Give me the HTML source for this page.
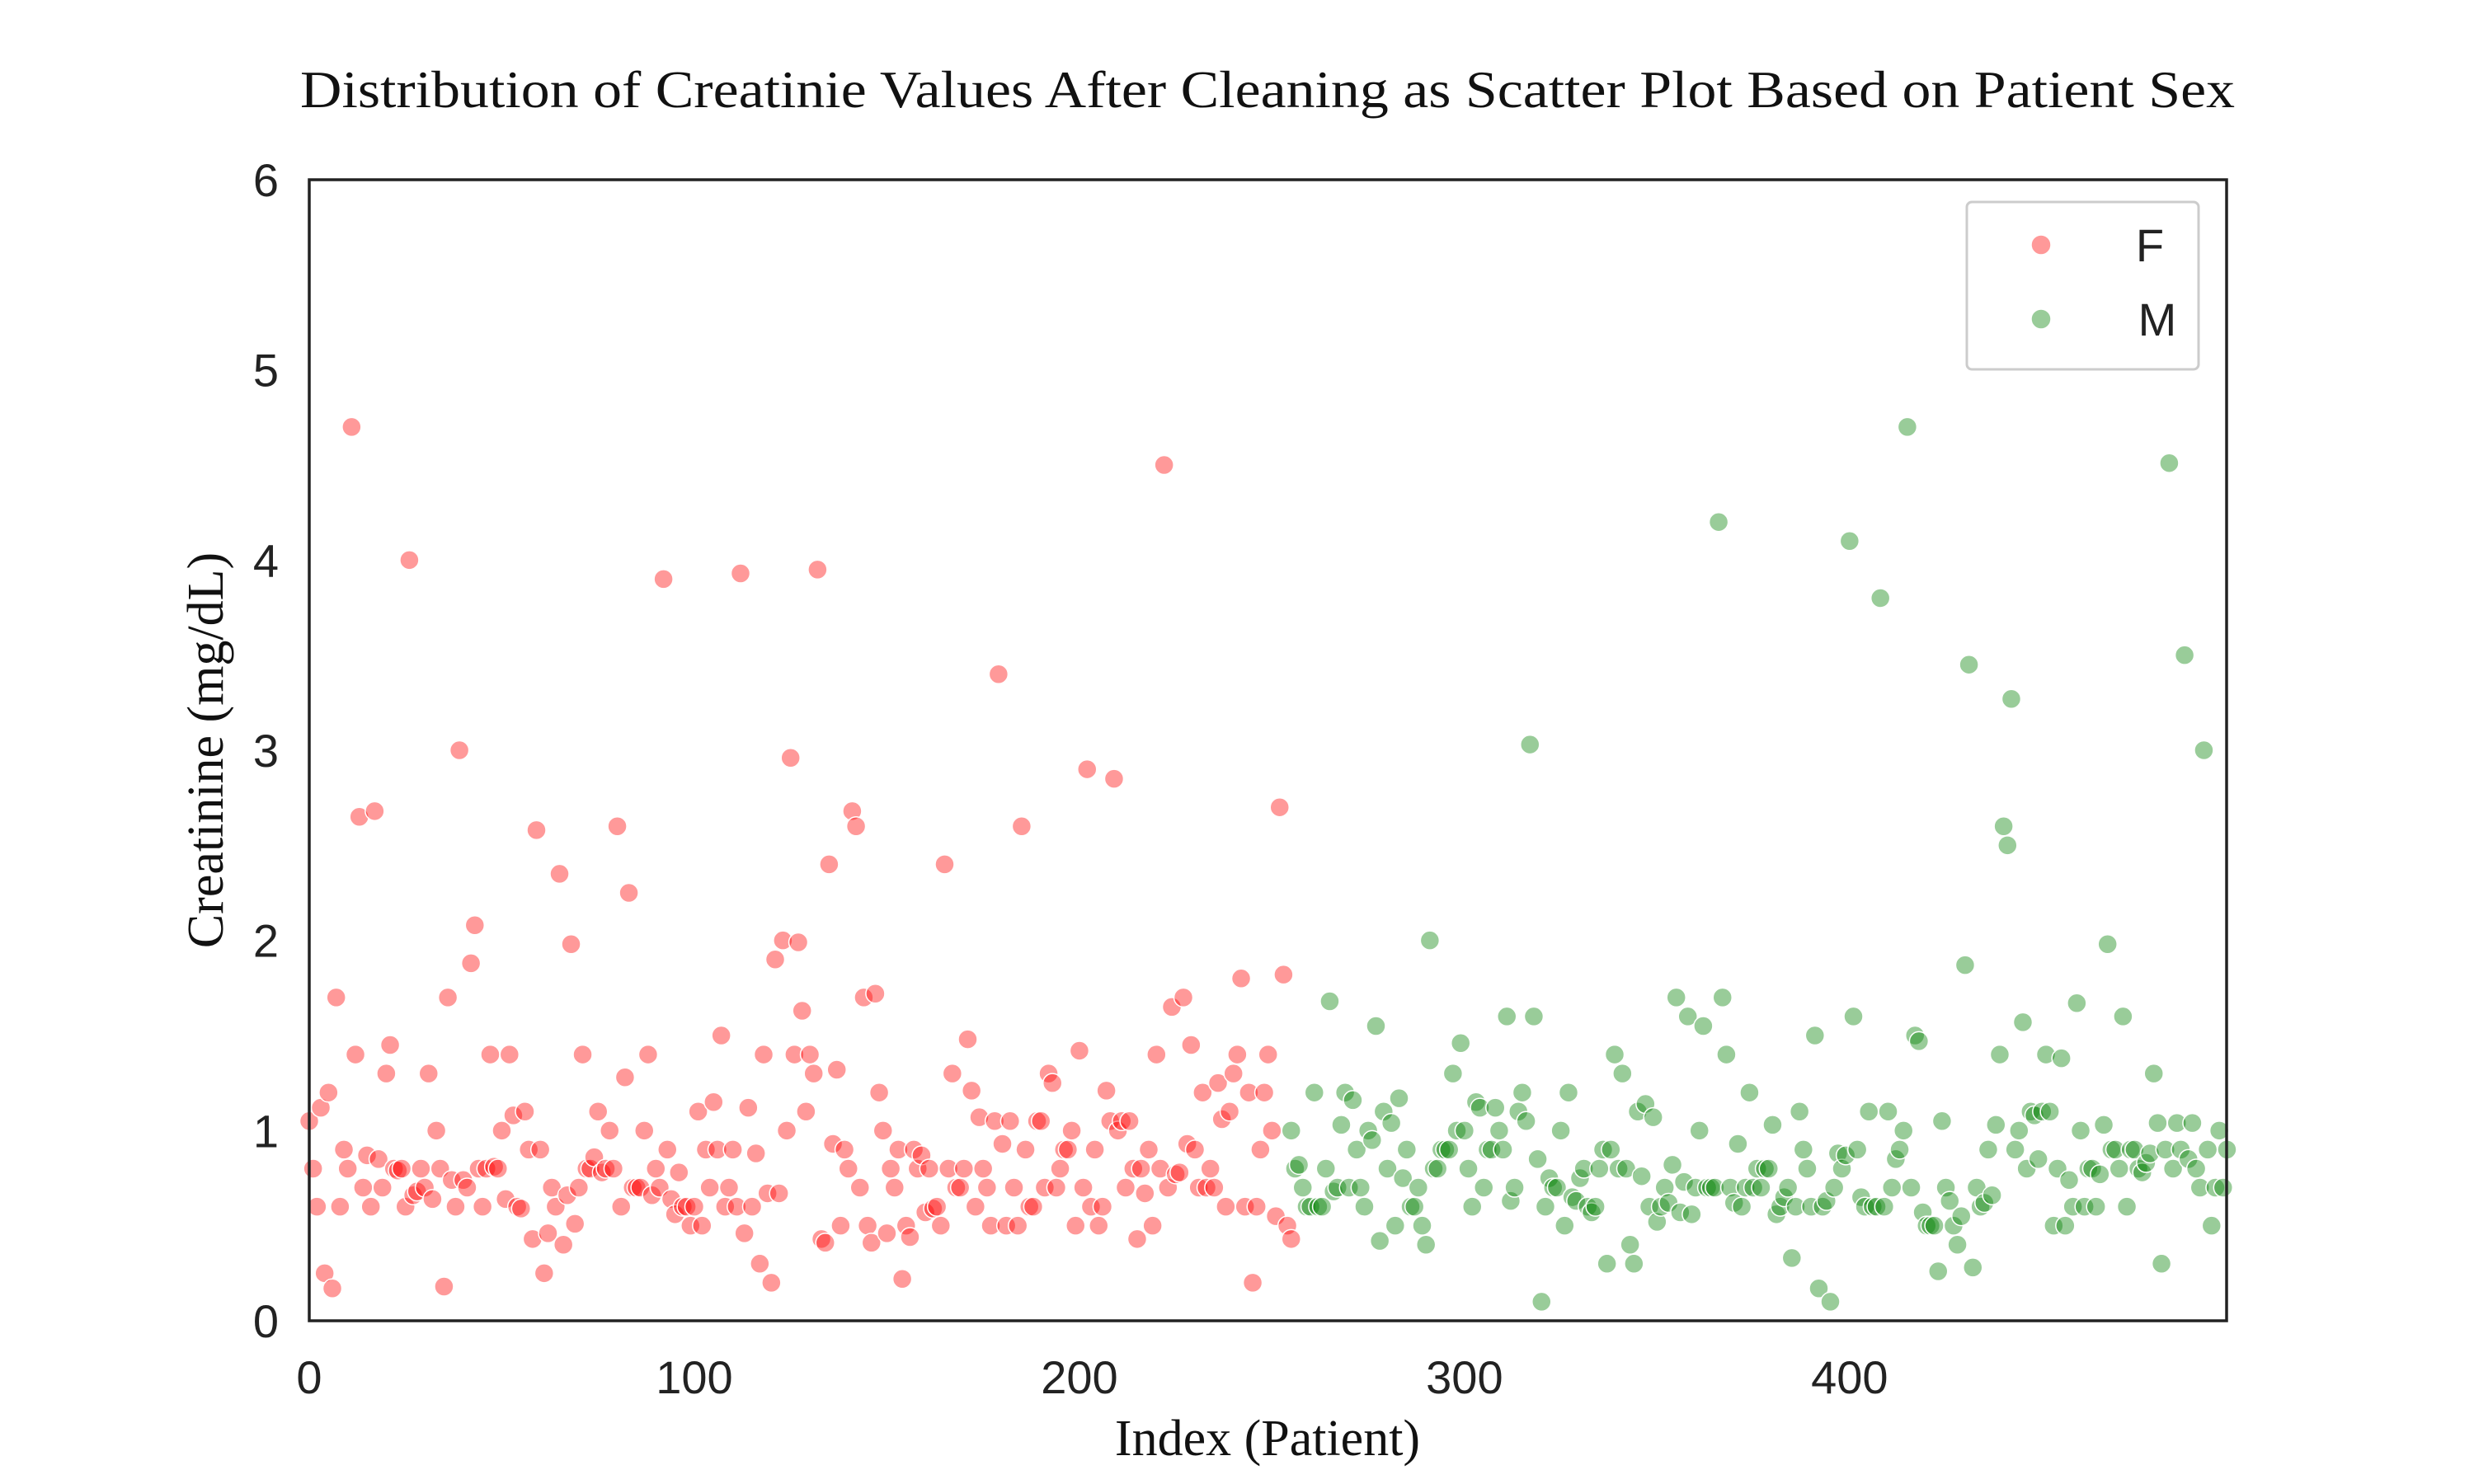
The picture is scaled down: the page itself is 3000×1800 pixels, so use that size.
<!DOCTYPE html>
<html><head><meta charset="utf-8"><style>
html,body{margin:0;padding:0;background:#fff;}
svg{display:block;}
</style></head><body>
<svg id="chart" width="3000" height="1800" viewBox="0 0 3000 1800" xmlns="http://www.w3.org/2000/svg">
<rect width="3000" height="1800" fill="#fff"/>
<text x="1537" y="130" text-anchor="middle" font-family="Liberation Serif, serif" font-size="64" textLength="2346" lengthAdjust="spacingAndGlyphs" fill="#111">Distribution of Creatinie Values After Cleaning as Scatter Plot Based on Patient Sex</text>
<g id="ticks"></g>
<g id="marks"></g>
<rect x="375" y="218" width="2325" height="1384" fill="none" stroke="#222" stroke-width="3.5"/>
<text x="1537" y="1765" text-anchor="middle" font-family="Liberation Serif, serif" font-size="62" fill="#111">Index (Patient)</text>
<text transform="translate(270,910) rotate(-90)" text-anchor="middle" font-family="Liberation Serif, serif" font-size="62" fill="#111">Creatinine (mg/dL)</text>
<g>
<rect x="2385" y="245" width="281" height="203" rx="6" fill="#fff" stroke="#ccc" stroke-width="3"/>
<g>
<circle cx="2475" cy="297" r="12" fill="rgba(255,0,0,0.4)" stroke="#fff" stroke-width="1.5"/>
<text x="2607" y="317" text-anchor="middle" font-family="Liberation Sans, sans-serif" font-size="56" fill="#222">F</text>
</g>
<g>
<circle cx="2475" cy="387" r="12" fill="rgba(0,128,0,0.4)" stroke="#fff" stroke-width="1.5"/>
<text x="2616" y="407" text-anchor="middle" font-family="Liberation Sans, sans-serif" font-size="56" fill="#222">M</text>
</g>
</g>
</svg>
<script>
const xTicks = [0, 100, 200, 300, 400];
const yTicks = [0, 1, 2, 3, 4, 5, 6];
const fStart = 0;
const mStart = 255;
const femaleValues = [1.05,0.8,0.6,1.12,0.25,1.2,0.17,1.7,0.6,0.9,0.8,4.7,1.4,2.65,0.7,0.87,0.6,2.68,0.85,0.7,1.3,1.45,0.8,0.79,0.8,0.6,4.0,0.66,0.68,0.8,0.7,1.3,0.64,1.0,0.8,0.18,1.7,0.74,0.6,3.0,0.74,0.7,1.88,2.08,0.8,0.6,0.8,1.4,0.81,0.8,1.0,0.64,1.4,1.08,0.6,0.59,1.1,0.9,0.43,2.58,0.9,0.25,0.46,0.7,0.6,2.35,0.4,0.66,1.98,0.51,0.7,1.4,0.8,0.8,0.86,1.1,0.78,0.8,1.0,0.8,2.6,0.6,1.28,2.25,0.7,0.7,0.7,1.0,1.4,0.66,0.8,0.7,3.9,0.9,0.64,0.56,0.78,0.6,0.6,0.5,0.6,1.1,0.5,0.9,0.7,1.15,0.9,1.5,0.6,0.7,0.9,0.6,3.93,0.46,1.12,0.6,0.88,0.3,1.4,0.67,0.2,1.9,0.67,2.0,1.0,2.96,1.4,1.99,1.63,1.1,1.4,1.3,3.95,0.43,0.41,2.4,0.93,1.32,0.5,0.9,0.8,2.68,2.6,0.7,1.7,0.5,0.41,1.72,1.2,1.0,0.46,0.8,0.7,0.9,0.22,0.5,0.44,0.9,0.8,0.87,0.57,0.8,0.59,0.6,0.5,2.4,0.8,1.3,0.7,0.7,0.8,1.48,1.21,0.6,1.07,0.8,0.7,0.5,1.05,3.4,0.93,0.5,1.05,0.7,0.5,2.6,0.9,0.6,0.6,1.05,1.05,0.7,1.3,1.25,0.7,0.8,0.9,0.9,1.0,0.5,1.42,0.7,2.9,0.6,0.9,0.5,0.6,1.21,1.05,2.85,1.0,1.05,0.7,1.05,0.8,0.43,0.8,0.67,0.9,0.5,1.4,0.8,4.5,0.7,1.65,0.77,0.78,1.7,0.93,1.45,0.9,0.7,1.2,0.7,0.8,0.7,1.25,1.06,0.6,1.1,1.3,1.4,1.8,0.6,1.2,0.2,0.6,0.9,1.2,1.4,1.0,0.55,2.7,1.82,0.5,0.43];
const maleValues = [1.0,0.8,0.82,0.7,0.6,0.6,1.2,0.6,0.6,0.8,1.68,0.68,0.7,1.03,1.2,0.7,1.16,0.9,0.7,0.6,1.0,0.95,1.55,0.42,1.1,0.8,1.04,0.5,1.17,0.75,0.9,0.6,0.6,0.7,0.5,0.4,2.0,0.8,0.8,0.9,0.9,0.9,1.3,1.0,1.46,1.0,0.8,0.6,1.15,1.12,0.7,0.9,0.9,1.12,1.0,0.9,1.6,0.63,0.7,1.1,1.2,1.05,3.03,1.6,0.85,0.1,0.6,0.75,0.7,0.7,1.0,0.5,1.2,0.65,0.63,0.75,0.8,0.6,0.57,0.6,0.8,0.9,0.3,0.9,1.4,0.8,1.3,0.8,0.4,0.3,1.1,0.76,1.14,0.6,1.07,0.52,0.6,0.7,0.62,0.82,1.7,0.57,0.73,1.6,0.56,0.7,1.0,1.55,0.7,0.7,0.7,4.2,1.7,1.4,0.7,0.62,0.93,0.6,0.7,1.2,0.7,0.8,0.7,0.8,0.8,1.03,0.56,0.6,0.65,0.7,0.33,0.6,1.1,0.9,0.8,0.6,1.5,0.17,0.6,0.63,0.1,0.7,0.88,0.8,0.87,4.1,1.6,0.9,0.65,0.6,1.1,0.6,0.6,3.8,0.6,1.1,0.7,0.85,0.9,1.0,4.7,0.7,1.5,1.47,0.57,0.5,0.5,0.5,0.26,1.05,0.7,0.63,0.5,0.4,0.55,1.87,3.45,0.28,0.7,0.6,0.62,0.9,0.66,1.03,1.4,2.6,2.5,3.27,0.9,1.0,1.57,0.8,1.1,1.08,0.85,1.1,1.4,1.1,0.5,0.8,1.38,0.5,0.74,0.6,1.67,1.0,0.6,0.8,0.8,0.6,0.77,1.03,1.98,0.9,0.9,0.8,1.6,0.6,0.9,0.9,0.8,0.78,0.83,0.88,1.3,1.04,0.3,0.9,4.51,0.8,1.04,0.9,3.5,0.85,1.04,0.8,0.7,3.0,0.9,0.5,0.7,1.0,0.7,0.9];

const NS = 'http://www.w3.org/2000/svg';
const X0 = 375, X1 = 2700, Y0 = 1602, Y1 = 218;
const XMAX = 497.9, YMAX = 6;
function xScale(v){ return X0 + (v / XMAX) * (X1 - X0); }
function yScale(v){ return Y0 - (v / YMAX) * (Y0 - Y1); }

const ticks = document.getElementById('ticks');
xTicks.forEach(function(t){
  const tx = document.createElementNS(NS, 'text');
  
  
  tx.setAttribute('x', xScale(t));
  tx.setAttribute('y', 1690);
  tx.setAttribute('text-anchor', 'middle');
  tx.setAttribute('font-family', 'Liberation Sans, sans-serif');
  tx.setAttribute('font-size', '56');
  tx.setAttribute('fill', '#222');
  tx.textContent = t;
  ticks.appendChild(tx);
});
yTicks.forEach(function(t){
  const ty = document.createElementNS(NS, 'text');
  
  
  ty.setAttribute('x', 338);
  ty.setAttribute('y', yScale(t) + 20);
  ty.setAttribute('text-anchor', 'end');
  ty.setAttribute('font-family', 'Liberation Sans, sans-serif');
  ty.setAttribute('font-size', '56');
  ty.setAttribute('fill', '#222');
  ty.textContent = t;
  ticks.appendChild(ty);
});

const marks = document.getElementById('marks');
function drawSeries(vals, start, fill, name){
  vals.forEach(function(v, i){
    const c = document.createElementNS(NS, 'circle');
    
    
    c.setAttribute('cx', xScale(start + i));
    c.setAttribute('cy', yScale(v));
    c.setAttribute('r', 11.5);
    c.setAttribute('fill', fill);
    c.setAttribute('stroke', '#fff');
    c.setAttribute('stroke-width', '1.5');
    marks.appendChild(c);
  });
}
drawSeries(femaleValues, fStart, 'rgba(255,0,0,0.4)', 'point-female');
drawSeries(maleValues, mStart, 'rgba(0,128,0,0.4)', 'point-male');
</script>
</body></html>
